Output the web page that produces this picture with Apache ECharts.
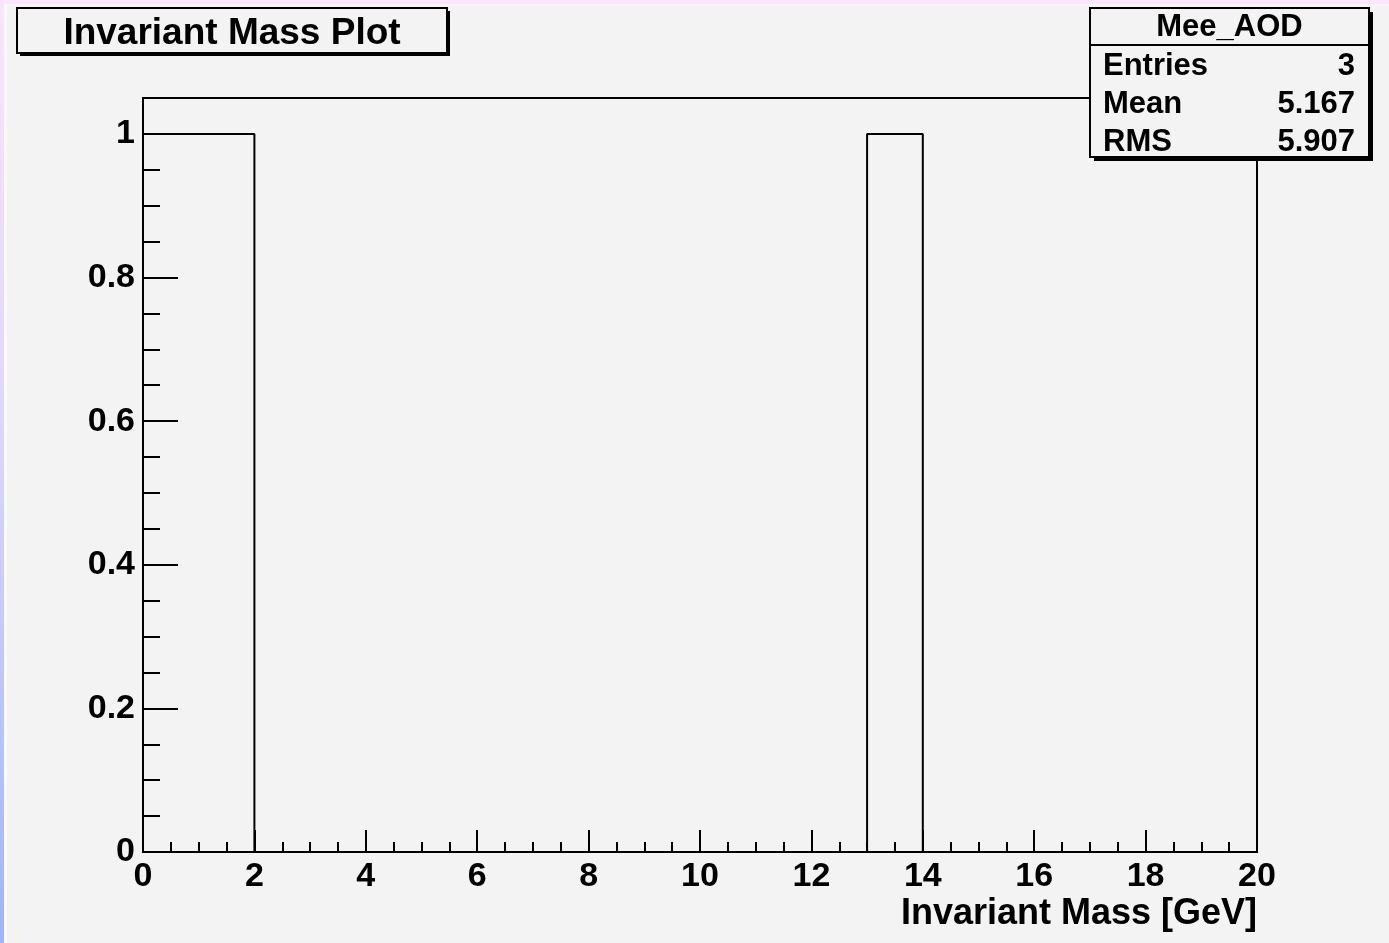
<!DOCTYPE html>
<html>
<head>
<meta charset="utf-8">
<title>Invariant Mass Plot</title>
<script src="https://cdn.jsdelivr.net/npm/echarts@6/dist/echarts.min.js"></script>
<style>
  html, body { margin: 0; padding: 0; background: #f3f3f3; }
  #chart { width: 1389px; height: 943px; }
</style>
</head>
<body>
<div id="chart"></div>
<script>
// Histogram Mee_AOD: 20 bins of 1 GeV from 0 to 20
const histName = 'Mee_AOD';
const titleText = 'Invariant Mass Plot';
const xTitle = 'Invariant Mass [GeV]';
const binEdges = [0, 1, 2, 3, 4, 5, 6, 7, 8, 9, 10, 11, 12, 13, 14, 15, 16, 17, 18, 19, 20];
const binCounts = [1, 1, 0, 0, 0, 0, 0, 0, 0, 0, 0, 0, 0, 1, 0, 0, 0, 0, 0, 0];
const xMajorTicks = [0, 2, 4, 6, 8, 10, 12, 14, 16, 18, 20];
const xMinorTicks = [0.5, 1, 1.5, 2.5, 3, 3.5, 4.5, 5, 5.5, 6.5, 7, 7.5, 8.5, 9, 9.5, 10.5, 11, 11.5,
                     12.5, 13, 13.5, 14.5, 15, 15.5, 16.5, 17, 17.5, 18.5, 19, 19.5];
const yMajorTicks = [0, 0.2, 0.4, 0.6, 0.8, 1];
const yMinorTicks = [0.05, 0.1, 0.15, 0.25, 0.3, 0.35, 0.45, 0.5, 0.55, 0.65, 0.7, 0.75, 0.85, 0.9, 0.95];
const yMax = 1.05;

// Statistics from the bin contents (bin centres)
let entries = 0, sumX = 0, sumX2 = 0;
binCounts.forEach((c, i) => {
  const xc = (binEdges[i] + binEdges[i + 1]) / 2;
  entries += c; sumX += c * xc; sumX2 += c * xc * xc;
});
const mean = sumX / entries;
const rms = Math.sqrt(sumX2 / entries - mean * mean);
const statRows = [
  ['Entries', String(entries)],
  ['Mean', mean.toFixed(3)],
  ['RMS', rms.toFixed(3)]
];

// Outline of the histogram as a step path
const outline = [[binEdges[0], 0]];
binCounts.forEach((c, i) => {
  outline.push([binEdges[i], c]);
  outline.push([binEdges[i + 1], c]);
});
outline.push([binEdges[binEdges.length - 1], 0]);

const FONT = '"Liberation Sans", Arial, Helvetica, sans-serif';
const BG = '#f3f3f3';
const tickLine = { color: '#000', width: 2 };

const chart = echarts.init(document.getElementById('chart'), null, { renderer: 'canvas' });

// Plot frame, title box and stats box geometry (pixels)
const plot = { left: 143, right: 132, top: 98, bottom: 91 };
const sb = { x: 1090, y: 8, w: 279, h: 149, head: 37 };
const tb = { x: 17, y: 8, w: 430, h: 45 };

const statChildren = [
  { type: 'rect', shape: { x: sb.x + 4, y: sb.y + 4, width: sb.w, height: sb.h }, style: { fill: '#000' } },
  { type: 'rect', shape: { x: sb.x, y: sb.y, width: sb.w, height: sb.h }, style: { fill: BG, stroke: '#000', lineWidth: 2 } },
  { type: 'line', shape: { x1: sb.x, y1: sb.y + sb.head, x2: sb.x + sb.w, y2: sb.y + sb.head }, style: { stroke: '#000', lineWidth: 2 } },
  { type: 'text', x: sb.x + sb.w / 2, y: sb.y + 19, style: { text: histName, font: 'bold 31px ' + FONT, fill: '#000', align: 'center', verticalAlign: 'middle' } }
];
statRows.forEach((r, i) => {
  const yy = 66 + i * 38;
  statChildren.push({ type: 'text', x: sb.x + 13, y: yy, style: { text: r[0], font: 'bold 31px ' + FONT, fill: '#000', align: 'left', verticalAlign: 'middle' } });
  statChildren.push({ type: 'text', x: sb.x + sb.w - 14, y: yy, style: { text: r[1], font: 'bold 31px ' + FONT, fill: '#000', align: 'right', verticalAlign: 'middle' } });
});

const option = {
  backgroundColor: BG,
  animation: false,
  grid: {
    left: plot.left, right: plot.right, top: plot.top, bottom: plot.bottom,
    outerBoundsMode: 'none', containLabel: false,
    show: true, borderColor: '#000', borderWidth: 2, backgroundColor: 'transparent'
  },
  xAxis: [
    {
      type: 'value', min: 0, max: 20, interval: 2,
      axisLine: { show: true, lineStyle: tickLine },
      axisTick: { show: true, inside: true, length: 22, lineStyle: tickLine, customValues: xMajorTicks },
      axisLabel: { show: true, customValues: xMajorTicks, margin: 8, color: '#000',
                   fontFamily: FONT, fontWeight: 'bold', fontSize: 34 },
      splitLine: { show: false }
    },
    {
      type: 'value', min: 0, max: 20, position: 'bottom', offset: 0,
      axisLine: { show: false },
      axisTick: { show: true, inside: true, length: 10, lineStyle: tickLine, customValues: xMinorTicks },
      axisLabel: { show: false },
      splitLine: { show: false }
    }
  ],
  yAxis: [
    {
      type: 'value', min: 0, max: yMax,
      axisLine: { show: true, lineStyle: tickLine },
      axisTick: { show: true, inside: true, length: 35, lineStyle: tickLine, customValues: yMajorTicks },
      axisLabel: { show: true, customValues: yMajorTicks, margin: 8, color: '#000',
                   fontFamily: FONT, fontWeight: 'bold', fontSize: 34,
                   formatter: v => String(v) },
      splitLine: { show: false }
    },
    {
      type: 'value', min: 0, max: yMax, position: 'left', offset: 0,
      axisLine: { show: false },
      axisTick: { show: true, inside: true, length: 17, lineStyle: tickLine, customValues: yMinorTicks },
      axisLabel: { show: false },
      splitLine: { show: false }
    }
  ],
  series: [
    {
      name: histName, type: 'line', xAxisIndex: 0, yAxisIndex: 0,
      data: outline, symbol: 'none', clip: false,
      lineStyle: { color: '#000', width: 2 }
    }
  ],
  graphic: [
    // window frame strips
    { type: 'rect', shape: { x: 0, y: 0, width: 1389, height: 4 }, style: { fill: '#fbe6fb' }, z: 100 },
    { type: 'rect', shape: { x: 0, y: 4, width: 1389, height: 2 }, style: { fill: '#fbf5fb' }, z: 100 },
    { type: 'rect', shape: { x: 0, y: 0, width: 4, height: 943 },
      style: { fill: new echarts.graphic.LinearGradient(0, 0, 0, 1, [
        { offset: 0, color: '#fbe4fb' }, { offset: 0.45, color: '#ddd6fb' }, { offset: 1, color: '#9db5fb' }
      ]) }, z: 100 },
    { type: 'rect', shape: { x: 4, y: 4, width: 3, height: 939 }, style: { fill: '#f9f9fb' }, z: 100 },
    // x-axis title, right-aligned with the end of the axis
    { type: 'text', z: 100, x: 1389 - plot.right, y: 914,
      style: { text: xTitle, font: 'bold 36px ' + FONT, fill: '#000', align: 'right', verticalAlign: 'middle' } },
    // title box
    { type: 'group', z: 100, children: [
      { type: 'rect', shape: { x: tb.x + 3, y: tb.y + 3, width: tb.w, height: tb.h }, style: { fill: '#000' } },
      { type: 'rect', shape: { x: tb.x, y: tb.y, width: tb.w, height: tb.h }, style: { fill: BG, stroke: '#000', lineWidth: 2 } },
      { type: 'text', x: tb.x + tb.w / 2, y: tb.y + tb.h / 2 + 3,
        style: { text: titleText, font: 'bold 37px ' + FONT, fill: '#000', align: 'center', verticalAlign: 'middle' } }
    ] },
    // statistics box
    { type: 'group', z: 100, children: statChildren }
  ]
};

chart.setOption(option);
</script>
</body>
</html>
